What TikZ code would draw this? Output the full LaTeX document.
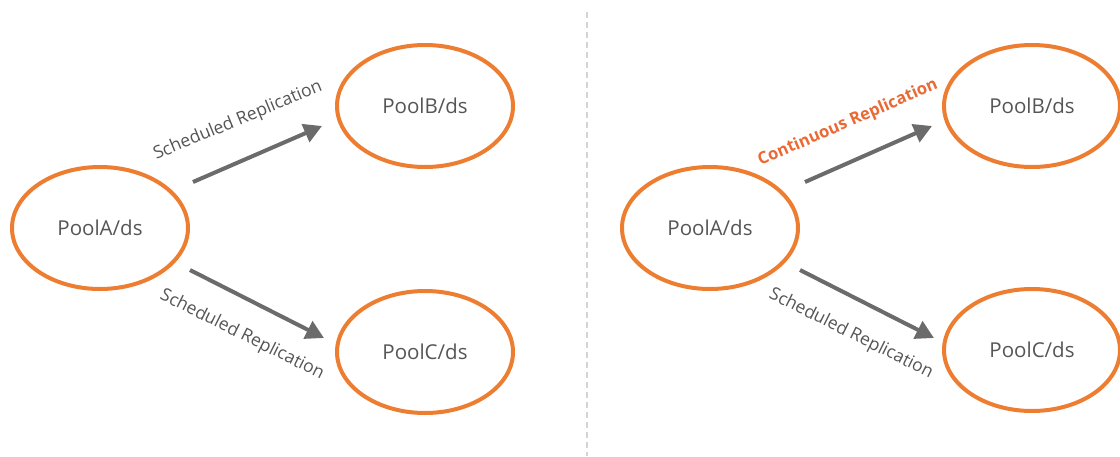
\documentclass[tikz,border=0pt]{standalone}
\usepackage{fontspec}
\setmainfont{Open Sans}
\usetikzlibrary{shapes.geometric,arrows.meta}
\definecolor{poolorange}{HTML}{ED7D31}
\definecolor{labelorange}{HTML}{E96A35}
\definecolor{arrowgray}{HTML}{6B6B6B}
\definecolor{textgray}{HTML}{555555}
\definecolor{divgray}{HTML}{D4D4D4}
\tikzset{
  pool/.style={ellipse, draw=poolorange, line width=4pt, minimum width=176pt, minimum height=122pt, inner sep=0pt, text=textgray, font=\fontsize{20.5}{24}\selectfont},
  reparrow/.style={draw=arrowgray, line width=4pt, -{Triangle[length=18pt,width=19pt]}},
  replabel/.style={text=textgray, font=\fontsize{17.6}{20}\selectfont, inner sep=0pt},
  contlabel/.style={text=labelorange, font=\bfseries\fontsize{16.7}{20}\selectfont, inner sep=0pt},
  divider/.style={draw=divgray, line width=1.5pt, dash pattern=on 6pt off 4pt}
}
\begin{document}
\begin{tikzpicture}[x=1pt,y={(0pt,-1pt)}]
\useasboundingbox (0,0) rectangle (1120,456);
\clip (0,0) rectangle (1120,456);
% divider
\coordinate (dtop) at (587,12);
\coordinate (dbot) at (587,456);
\draw[divider] (dtop) -- (dbot);
% left
\node[pool] (A1) at (100,228) {PoolA/ds};
\node[pool] (B1) at (425,106) {PoolB/ds};
\node[pool] (C1) at (425,352) {PoolC/ds};
\coordinate (a1s) at (193,182);
\coordinate (a1e) at (322,126);
\coordinate (a2s) at (190,270);
\coordinate (a2e) at (324,338);
\draw[reparrow] (a1s) -- (a1e);
\draw[reparrow] (a2s) -- (a2e);
\node[replabel, rotate=22.5] (l1) at (238,121) {Scheduled Replication};
\node[replabel, rotate=-26.5] (l2) at (242,335) {Scheduled Replication};
% right
\node[pool] (A2) at (710,228) {PoolA/ds};
\node[pool] (B2) at (1032,106) {PoolB/ds};
\node[pool] (C2) at (1032,350) {PoolC/ds};
\coordinate (b1s) at (805,182);
\coordinate (b1e) at (932,126);
\coordinate (b2s) at (800,270);
\coordinate (b2e) at (934,338);
\draw[reparrow] (b1s) -- (b1e);
\draw[reparrow] (b2s) -- (b2e);
\node[contlabel, rotate=23.5] (l3) at (848,123) {Continuous Replication};
\node[replabel, rotate=-26.5] (l4) at (851,334) {Scheduled Replication};
\end{tikzpicture}
\end{document}
